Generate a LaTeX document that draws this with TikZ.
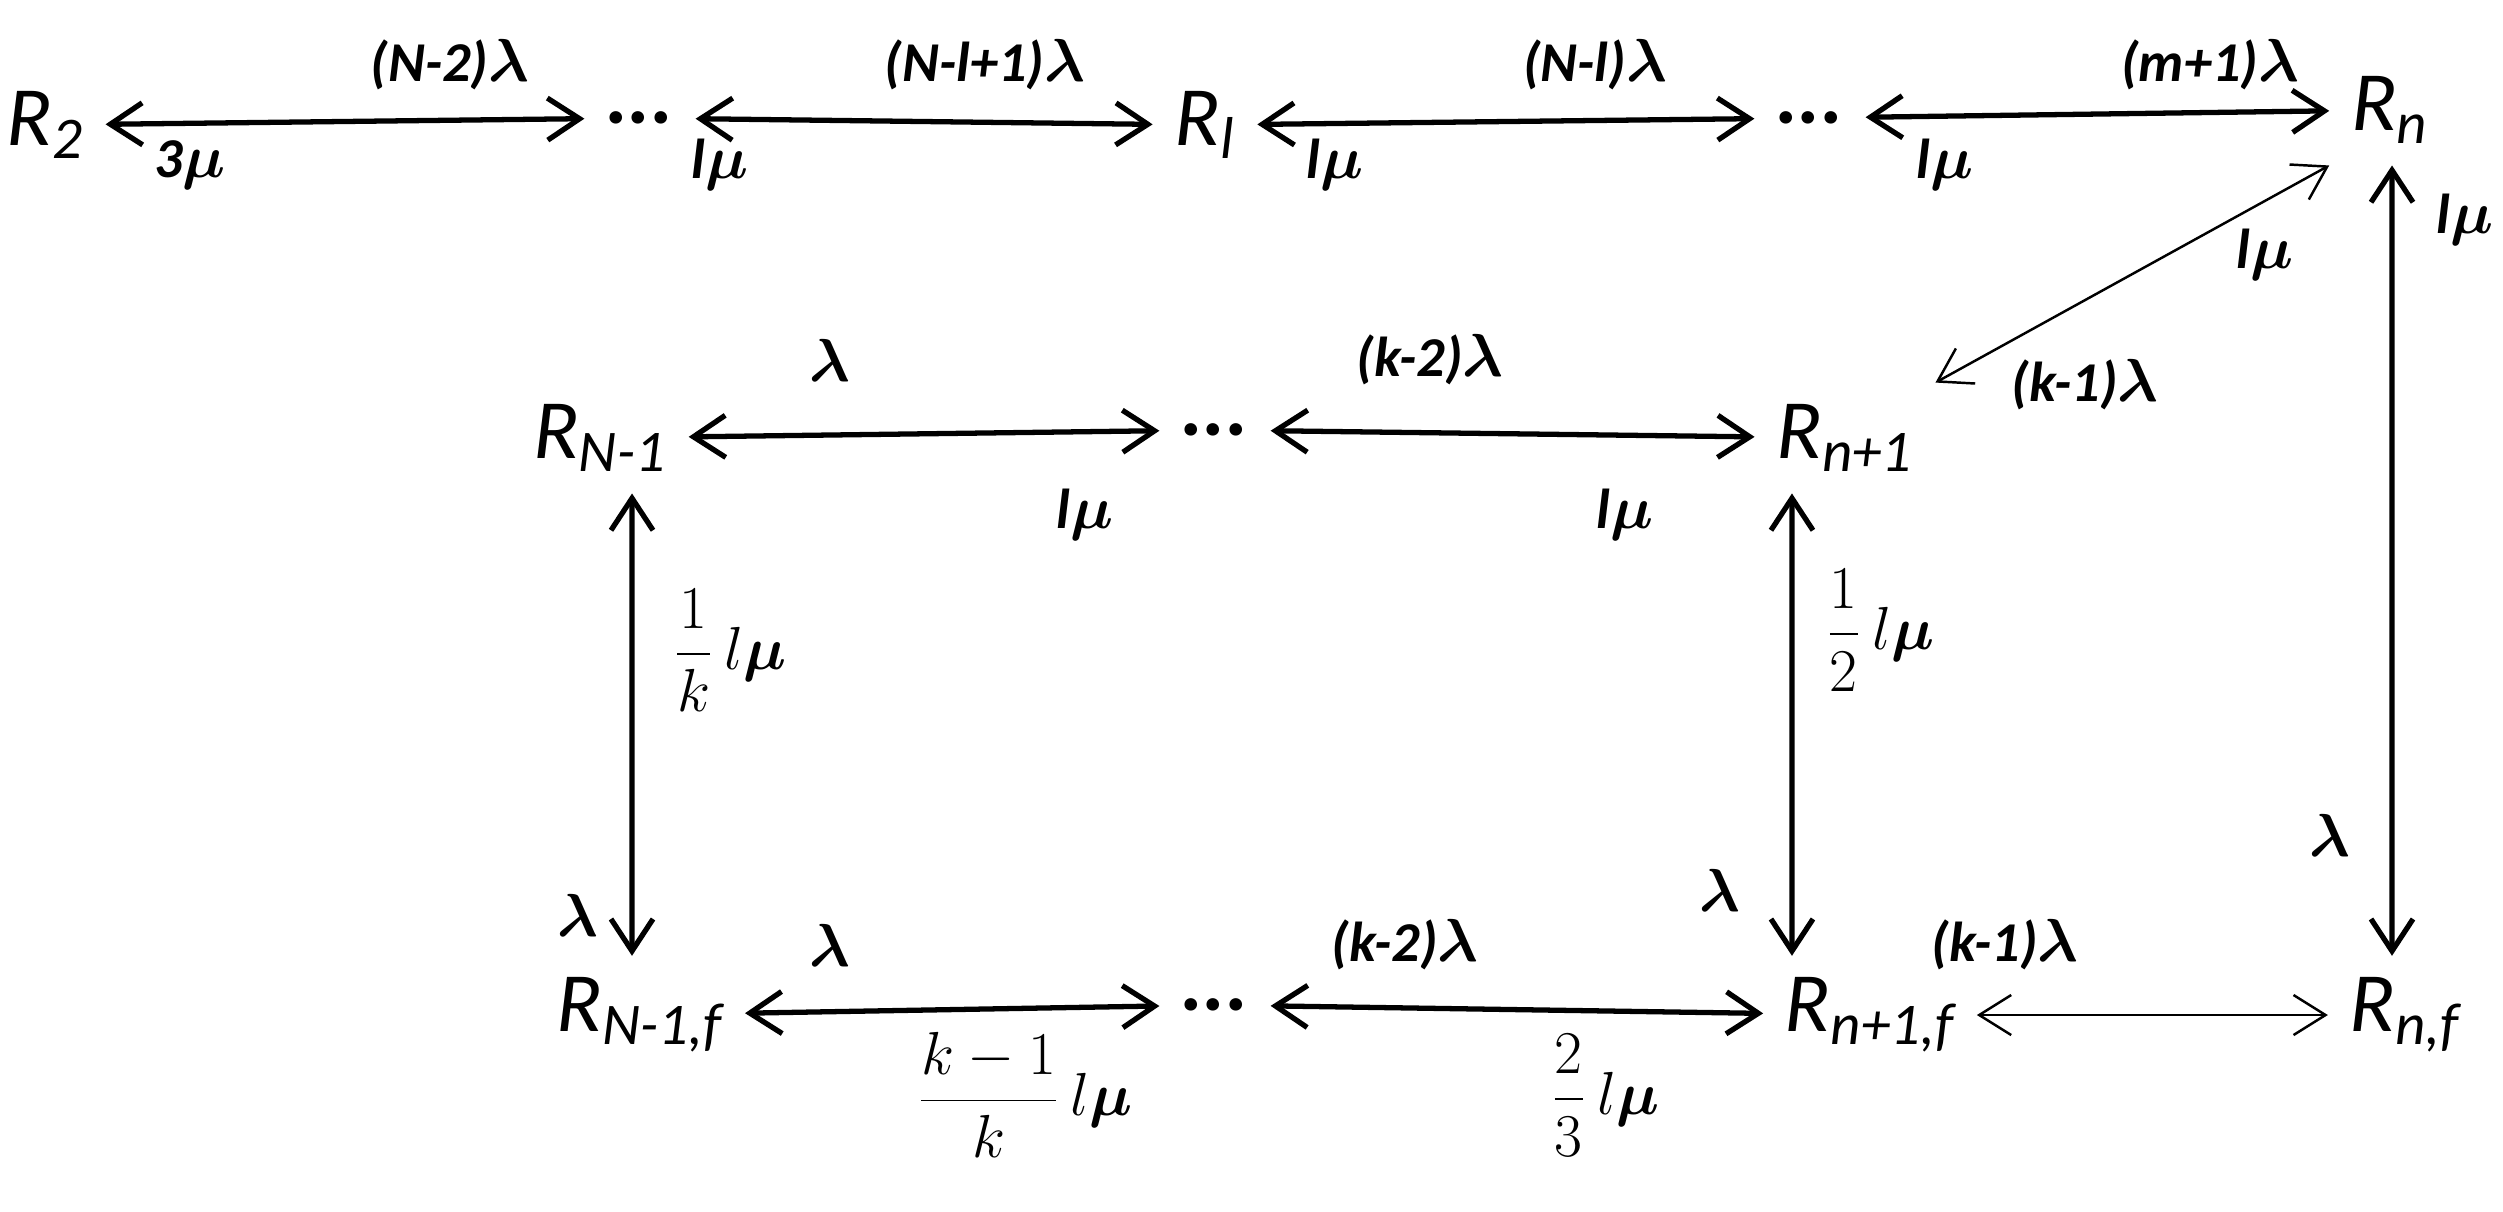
\documentclass[tikz,border=0pt]{standalone}
\usepackage{fontspec}
\usepackage{bm}
\setmainfont{Carlito}
\usetikzlibrary{arrows.meta}
\tikzset{
  state/.style={font=\fontsize{24}{26}\selectfont\itshape, inner sep=6pt},
  lbl/.style={font=\fontsize{16}{18}\selectfont\bfseries\itshape, inner sep=1pt},
  link/.style={line width=1.5pt, {Straight Barb[length=3.2mm,width=4.2mm]}-{Straight Barb[length=3.2mm,width=4.2mm]}},
  thinlink/.style={line width=0.7pt, {Straight Barb[length=3.2mm,width=4mm]}-{Straight Barb[length=3.2mm,width=4mm]}},
}
\newcommand{\lam}{$\bm\lambda$}
\newcommand{\mmu}{$\bm\mu$}
\begin{document}
\begin{tikzpicture}[x=0.01cm,y=-0.01cm]
    \useasboundingbox (0,0) rectangle (2503,1211);
    % states, top row
    \node [state] (R2) at (45,125) {R\textsubscript{2}};
    \node [state] (d1) at (640,118) {\textbf{...}};
    \node [state] (Rl) at (1205,125) {R\textsubscript{l}};
    \node [state] (d2) at (1810,118) {\textbf{...}};
    \node [state] (Rn) at (2390,110) {R\textsubscript{n}};
    % middle row
    \node [state] (RN1) at (600,438) {R\textsubscript{N-1}};
    \node [state] (d3) at (1215,430) {\textbf{...}};
    \node [state] (Rn1) at (1845,438) {R\textsubscript{n+1}};
    % bottom row
    \node [state] (RN1f) at (640,1015) {R\textsubscript{N-1,f}};
    \node [state] (d4) at (1215,1005) {\textbf{...}};
    \node [state] (Rn1f) at (1870,1015) {R\textsubscript{n+1,f}};
    \node [state] (Rnf) at (2405,1015) {R\textsubscript{n,f}};

    % top row links
    \draw [link] (R2) -- (d1);
    \draw [link] (d1) -- (Rl);
    \draw [link] (Rl) -- (d2);
    \draw [link] (d2) -- (Rn);
    \node [lbl] at (450,65) {(N-2)\lam};
    \node [lbl] at (190,165) {3\mmu};
    \node [lbl] at (985,65) {(N-l+1)\lam};
    \node [lbl] at (720,165) {l\mmu};
    \node [lbl] at (1595,65) {(N-l)\lam};
    \node [lbl] at (1335,165) {l\mmu};
    \node [lbl] at (2210,65) {(m+1)\lam};
    \node [lbl] at (1945,165) {l\mmu};

    % diagonal and right column
    \draw [thinlink] (Rn1.north east) -- (Rn.south west);
    \node [lbl] at (2265,255) {l\mmu};
    \node [lbl] at (2085,385) {(k-1)\lam};
    \draw [link] ([xshift=0.02cm]Rn.south) -- ([xshift=-0.13cm]Rnf.north);
    \node [lbl] at (2465,220) {l\mmu};
    \node [lbl] at (2330,835) {\lam};

    % middle row links
    \draw [link] (RN1) -- (d3);
    \draw [link] (d3) -- (Rn1);
    \node [lbl] at (830,360) {\lam};
    \node [lbl] at (1085,515) {l\mmu};
    \node [lbl] at (1430,360) {(k-2)\lam};
    \node [lbl] at (1625,515) {l\mmu};

    % vertical links
    \draw [link] ([xshift=0.32cm]RN1.south) -- ([xshift=-0.08cm]RN1f.north);
    \node [lbl] at (730,650) {$\displaystyle\frac{1}{k}\,l\bm\mu$};
    \node [lbl] at (578,915) {\lam};
    \draw [link] ([xshift=-0.53cm]Rn1.south) -- ([xshift=-0.78cm]Rn1f.north);
    \node [lbl] at (1880,630) {$\displaystyle\frac{1}{2}\,l\bm\mu$};
    \node [lbl] at (1720,890) {\lam};

    % bottom row links
    \draw [link] (RN1f) -- (d4);
    \draw [link] (d4) -- (Rn1f);
    \draw [thinlink] (Rn1f) -- (Rnf);
    \node [lbl] at (1025,1095) {$\displaystyle\frac{k-1}{k}\,l\bm\mu$};
    \node [lbl] at (830,945) {\lam};
    \node [lbl] at (1405,945) {(k-2)\lam};
    \node [lbl] at (1605,1095) {$\displaystyle\frac{2}{3}\,l\bm\mu$};
    \node [lbl] at (2005,945) {(k-1)\lam};
\end{tikzpicture}
\end{document}
